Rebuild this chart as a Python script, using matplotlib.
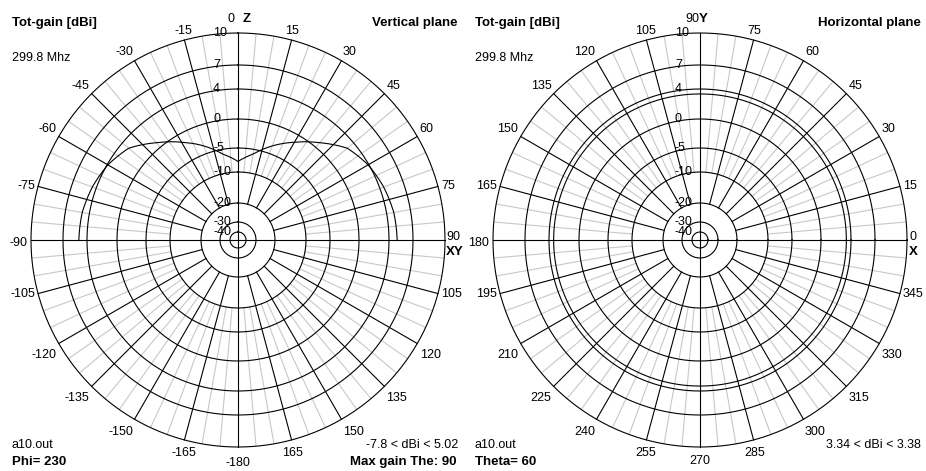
import numpy as np
import matplotlib
matplotlib.use('Agg')
import matplotlib.pyplot as plt

# gain rings of the 4nec2-style plot and where they sit (radius in px, outer = 207)
ring_db = [-40, -30, -20, -10, -5, 0, 4, 7, 10]
ring_px = [8, 18, 37, 68, 92, 121, 151, 175, 207]

# vertical plane (Phi = 230), theta from the zenith
vert_angle = [-90, -80, -70, -60, -50, -40, -30, -20, -10, 0,
              10, 20, 30, 40, 50, 60, 70, 80, 90]
vert_gain = [5.02, 4.9, 4.5, 3.9, 2.9, 0.8, -1.4, -3.6, -6.0, -7.8,
             -6.0, -3.6, -1.4, 0.8, 2.9, 3.9, 4.5, 4.9, 5.02]

# horizontal plane (Theta = 60)
hor_angle = [0, 30, 60, 90, 120, 150, 180, 210, 240, 270, 300, 330, 360]
hor_gain = [3.38, 3.37, 3.35, 3.34, 3.35, 3.37, 3.38, 3.37, 3.35, 3.34, 3.35, 3.37, 3.38]

vert_labels = list(range(-165, 181, 15))
hor_labels = list(range(0, 360, 15))

plt.rcParams['font.family'] = ['Liberation Sans', 'DejaVu Sans']
FS = 9
FSB = 9.5

scale_db = [-55] + ring_db
scale_px = [0] + ring_px


def fwd(g):
    return np.interp(g, scale_db, scale_px)


def inv(r):
    return np.interp(r, scale_px, scale_db)


fig = plt.figure(figsize=(9.26, 4.71), dpi=100)
W, H = 926, 471
R = 207
PT = 72 / 100  # points per pixel


def make_ax(cx, cy):
    ax = fig.add_axes([(cx - R) / W, (H - cy - R) / H, 2 * R / W, 2 * R / H],
                      projection='polar')
    ax.set_rscale('function', functions=(fwd, inv))
    ax.grid(False)
    ax.set_xticks([])
    ax.set_yticks([])
    ax.spines['polar'].set_visible(False)
    return ax


def draw_grid(ax, top_deg):
    full = np.linspace(0, 2 * np.pi, 721)
    for d in range(0, 360, 5):
        t = np.deg2rad(d)
        if d % 90 == 0:
            ax.plot([t, t], [-55, 10], color='black', lw=0.8, clip_on=False)
        elif d % 15 == 0:
            ax.plot([t, t], [-20, 10], color='black', lw=0.8, clip_on=False)
        else:
            ax.plot([t, t], [-10, 10], color='#c8c8c8', lw=0.8, zorder=1)
    for g in ring_db:
        ax.plot(full, np.full_like(full, g), color='black', lw=0.8, clip_on=False)
    for g in ring_db:
        ax.annotate(str(g), xy=(np.deg2rad(top_deg), g), xytext=(-25 * PT, 0),
                    textcoords='offset points', ha='left', va='center', fontsize=FS)
    ax.set_ylim(-55, 10)


def angle_labels(ax, labels, to_screen, skip):
    for a in labels:
        if a in skip:
            continue
        ux, uy = to_screen(a)
        ha = 'left' if ux > 0.3 else ('right' if ux < -0.3 else 'center')
        va = 'bottom' if uy > 0.3 else ('top' if uy < -0.3 else 'center')
        dx, dy = ux * 3, uy * 3
        if uy < -0.3:
            dy -= 4
        ax.annotate(str(a), xy=(np.deg2rad(a), 10), xytext=(dx * PT, dy * PT),
                    textcoords='offset points', ha=ha, va=va, fontsize=FS,
                    annotation_clip=False)


def pattern(ax, ang, gain):
    ln, = ax.plot(np.deg2rad(ang), gain, color='black', lw=0.8, clip_on=False)
    ln.get_path()._interpolation_steps = 60


# ---- left: vertical plane ----
ax1 = make_ax(238, 240)
ax1.set_theta_zero_location('N')
ax1.set_theta_direction(-1)
draw_grid(ax1, 0)
angle_labels(ax1, vert_labels, lambda a: (np.sin(np.deg2rad(a)), np.cos(np.deg2rad(a))),
             skip=[0, 90, -90, 180])
pattern(ax1, vert_angle, vert_gain)

# ---- right: horizontal plane ----
ax2 = make_ax(700, 240)
ax2.set_theta_zero_location('E')
ax2.set_theta_direction(1)
draw_grid(ax2, 90)
angle_labels(ax2, hor_labels, lambda a: (np.cos(np.deg2rad(a)), np.sin(np.deg2rad(a))),
             skip=[0, 90, 180, 270])
pattern(ax2, hor_angle, hor_gain)


def ft(x, y, s, ha='left', bold=False):
    fig.text(x / W, 1 - y / H, s, ha=ha, va='center',
             fontsize=FSB if bold else FS,
             fontweight='bold' if bold else 'normal')


# axis labels left panel
ft(234, 19, '0', ha='right')
ft(243, 19, 'Z', bold=True)
ft(27, 243, '-90', ha='right')
ft(446, 237, '90')
ft(446, 252, 'XY', bold=True)
ft(238, 463, '-180', ha='center')
# axis labels right panel
ft(699, 19, '90', ha='right')
ft(699, 19, 'Y', bold=True)
ft(489, 243, '180', ha='right')
ft(909, 237, '0')
ft(909, 252, 'X', bold=True)
ft(700, 461, '270', ha='center')

for off, plane, info, rng in [(0, 'Vertical plane', 'Phi= 230', '-7.8 < dBi < 5.02'),
                              (463, 'Horizontal plane', 'Theta= 60', '3.34 < dBi < 3.38')]:
    ft(off + 12, 23, 'Tot-gain [dBi]', bold=True)
    ft(off + 12, 58, '299.8 Mhz')
    ft(off + 458, 23, plane, ha='right', bold=True)
    ft(off + 12, 445, 'a10.out')
    ft(off + 12, 462, info, bold=True)
    ft(off + 458, 445, rng, ha='right')
ft(457, 462, 'Max gain The: 90', ha='right', bold=True)

plt.savefig('out.png', dpi=100)
